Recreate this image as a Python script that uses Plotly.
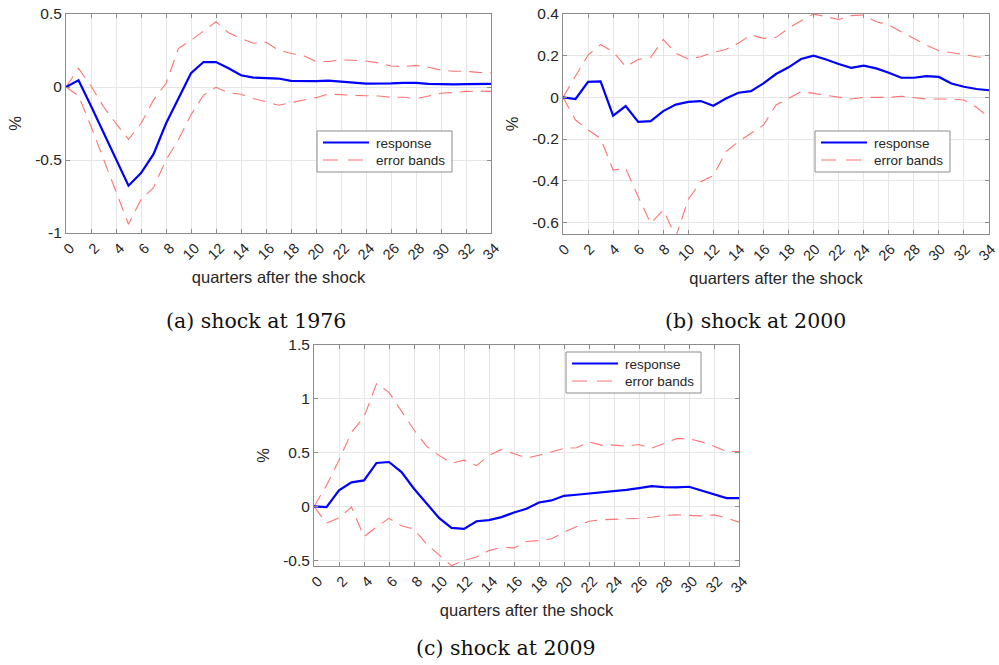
import plotly.graph_objects as go

W, H = 999, 665

quarters = list(range(35))
x_tick_vals = list(range(0, 35, 2))
x_tick_text = [str(v) for v in x_tick_vals]

# (a) shock at 1976
resp_a = [0, 0.046, -0.13, -0.31, -0.49, -0.676, -0.59, -0.46, -0.25, -0.08,
          0.094, 0.171, 0.171, 0.128, 0.08, 0.064, 0.062, 0.058, 0.042, 0.04,
          0.04, 0.044, 0.035, 0.03, 0.023, 0.022, 0.025, 0.028, 0.028, 0.022,
          0.018, 0.018, 0.02, 0.02, 0.022]
upper_a = [0, 0.128, 0.007, -0.135, -0.25, -0.358, -0.25, -0.09, 0.025, 0.265,
           0.32, 0.386, 0.447, 0.372, 0.333, 0.3, 0.306, 0.253, 0.23, 0.215,
           0.174, 0.175, 0.185, 0.183, 0.178, 0.165, 0.144, 0.14, 0.148, 0.135,
           0.116, 0.108, 0.107, 0.1, 0.096]
lower_a = [0, -0.06, -0.27, -0.49, -0.72, -0.94, -0.77, -0.69, -0.5, -0.36,
           -0.19, -0.055, -0.002, -0.04, -0.05, -0.08, -0.1, -0.125, -0.107, -0.09,
           -0.073, -0.048, -0.055, -0.057, -0.06, -0.062, -0.07, -0.07, -0.08, -0.062,
           -0.043, -0.038, -0.03, -0.028, -0.03]
y_ticks_a = [-1, -0.5, 0, 0.5]
y_text_a = ["-1", "-0.5", "0", "0.5"]

# (b) shock at 2000
resp_b = [0, -0.008, 0.074, 0.077, -0.088, -0.042, -0.118, -0.114, -0.066, -0.035,
          -0.022, -0.018, -0.04, -0.006, 0.022, 0.03, 0.067, 0.112, 0.144, 0.184,
          0.2, 0.182, 0.16, 0.142, 0.152, 0.139, 0.118, 0.094, 0.094, 0.102,
          0.098, 0.066, 0.051, 0.04, 0.034]
upper_b = [0, 0.1, 0.203, 0.254, 0.219, 0.147, 0.182, 0.192, 0.278, 0.211,
           0.184, 0.195, 0.216, 0.23, 0.26, 0.3, 0.283, 0.288, 0.331, 0.368,
           0.4, 0.387, 0.374, 0.392, 0.395, 0.363, 0.347, 0.315, 0.283, 0.251,
           0.224, 0.214, 0.203, 0.195, 0.187]
lower_b = [0, -0.109, -0.157, -0.197, -0.349, -0.341, -0.477, -0.605, -0.54, -0.67,
           -0.49, -0.405, -0.376, -0.261, -0.213, -0.173, -0.133, -0.037, -0.005, 0.027,
           0.019, 0.011, 0.002, -0.008, 0, 0, 0, 0.005, -0.002, -0.008,
           -0.008, -0.008, -0.013, -0.048, -0.096]
y_ticks_b = [-0.6, -0.4, -0.2, 0, 0.2, 0.4]
y_text_b = ["-0.6", "-0.4", "-0.2", "0", "0.2", "0.4"]

# (c) shock at 2009
resp_c = [0, -0.006, 0.149, 0.224, 0.242, 0.404, 0.413, 0.32, 0.165, 0.031,
          -0.106, -0.199, -0.208, -0.137, -0.127, -0.099, -0.056, -0.022, 0.037, 0.056,
          0.099, 0.109, 0.12, 0.13, 0.143, 0.155, 0.171, 0.189, 0.18, 0.177,
          0.183, 0.149, 0.112, 0.078, 0.078]
upper_c = [0, 0.196, 0.43, 0.69, 0.83, 1.14, 1.06, 0.88, 0.71, 0.56,
           0.475, 0.4, 0.43, 0.38, 0.475, 0.53, 0.49, 0.45, 0.475, 0.51,
           0.54, 0.545, 0.6, 0.57, 0.57, 0.56, 0.575, 0.54, 0.585, 0.63,
           0.63, 0.6, 0.56, 0.51, 0.51]
lower_c = [0, -0.155, -0.106, -0.006, -0.28, -0.19, -0.11, -0.18, -0.21, -0.35,
           -0.45, -0.55, -0.5, -0.47, -0.41, -0.38, -0.385, -0.326, -0.317, -0.3,
           -0.24, -0.19, -0.137, -0.124, -0.12, -0.115, -0.109, -0.1, -0.084, -0.078,
           -0.084, -0.087, -0.078, -0.106, -0.146]
y_ticks_c = [-0.5, 0, 0.5, 1, 1.5]
y_text_c = ["-0.5", "0", "0.5", "1", "1.5"]

captions = ["(a) shock at 1976", "(b) shock at 2000", "(c) shock at 2009"]
x_title = "quarters after the shock"
y_title = "%"
names = ["response", "error bands"]

BLUE = "#0000ff"
RED = "rgba(255,90,90,0.85)"
AXC = "#8c8c8c"
GRID = "#e6e6e6"
SANS = "Liberation Sans, Arial, sans-serif"
DASH = "13px,8px"

panels = [
    dict(r=resp_a, u=upper_a, lo=lower_a, box=(66, 491, 14, 233), yr=[-1, 0.5],
         yt=y_ticks_a, ytt=y_text_a, leg=(317, 131), cap=(256, 321), shift=4),
    dict(r=resp_b, u=upper_b, lo=lower_b, box=(563, 989, 14, 234), yr=[-0.656, 0.4],
         yt=y_ticks_b, ytt=y_text_b, leg=(815, 131), cap=(755, 321), shift=2),
    dict(r=resp_c, u=upper_c, lo=lower_c, box=(314, 739, 345, 566), yr=[-0.553, 1.5],
         yt=y_ticks_c, ytt=y_text_c, leg=(566, 352), cap=(506, 648), shift=4),
]

fig = go.Figure()
annotations, shapes = [], []
layout = dict(
    width=W, height=H, margin=dict(l=0, r=0, t=0, b=0),
    paper_bgcolor="white", plot_bgcolor="white",
    font=dict(family=SANS, size=15, color="#262626"),
    showlegend=False,
)


def px(x):
    return x / W


def py(y):
    return 1 - y / H


for i, p in enumerate(panels):
    n = "" if i == 0 else str(i + 1)
    xa, ya = "x" + n, "y" + n
    fig.add_trace(go.Scatter(x=quarters, y=p["u"], mode="lines", xaxis=xa, yaxis=ya,
                             name=names[1], line=dict(color=RED, width=1.1, dash=DASH)))
    fig.add_trace(go.Scatter(x=quarters, y=p["lo"], mode="lines", xaxis=xa, yaxis=ya,
                             name=names[1], line=dict(color=RED, width=1.1, dash=DASH)))
    fig.add_trace(go.Scatter(x=quarters, y=p["r"], mode="lines", xaxis=xa, yaxis=ya,
                             name=names[0], line=dict(color=BLUE, width=2.2)))
    l, r, t, b = p["box"]
    common = dict(showline=True, linecolor=AXC, linewidth=1, mirror="ticks",
                  ticks="inside", ticklen=4, tickcolor=AXC, showgrid=True,
                  gridcolor=GRID, gridwidth=1, zeroline=False, automargin=False)
    layout["xaxis" + n] = dict(domain=[px(l), px(r)], range=[0, 34], anchor=ya,
                               tickvals=x_tick_vals, ticktext=x_tick_text, tickangle=-45,
                               tickfont=dict(size=14.5), ticklabelshift=p["shift"],
                               ticklabeloverflow="allow",
                               title=dict(text=x_title, font=dict(size=16.5), standoff=9),
                               **common)
    layout["yaxis" + n] = dict(domain=[py(b), py(t)], range=p["yr"], anchor=xa,
                               tickvals=p["yt"], ticktext=p["ytt"], tickfont=dict(size=15.5),
                               title=dict(text=y_title, font=dict(size=16.5), standoff=9),
                               **common)
    # legend box
    lx, ly = p["leg"]
    shapes.append(dict(type="rect", xref="paper", yref="paper",
                       x0=px(lx), x1=px(lx + 135), y0=py(ly), y1=py(ly + 41),
                       line=dict(color="#8c8c8c", width=1), fillcolor="white", layer="above"))
    shapes.append(dict(type="line", xref="paper", yref="paper",
                       x0=px(lx + 6), x1=px(lx + 52), y0=py(ly + 11.5), y1=py(ly + 11.5),
                       line=dict(color=BLUE, width=2.2), layer="above"))
    shapes.append(dict(type="line", xref="paper", yref="paper",
                       x0=px(lx + 6), x1=px(lx + 53), y0=py(ly + 29), y1=py(ly + 29),
                       line=dict(color=RED, width=1.1, dash="15px,10px"), layer="above"))
    for k, yy in enumerate([ly + 12, ly + 29.5]):
        annotations.append(dict(text=names[k], x=px(lx + 57), y=py(yy), xref="paper",
                                yref="paper", showarrow=False, xanchor="left",
                                yanchor="middle",
                                font=dict(family=SANS, size=13.5, color="#262626")))
    cx, cy = p["cap"]
    annotations.append(dict(text=captions[i], x=px(cx), y=py(cy),
                            xref="paper", yref="paper", showarrow=False,
                            xanchor="center", yanchor="middle",
                            font=dict(family="DejaVu Serif", size=20.5, color="#111111")))

layout["annotations"] = annotations
layout["shapes"] = shapes
fig.update_layout(**layout)
fig.write_html("out.html")
